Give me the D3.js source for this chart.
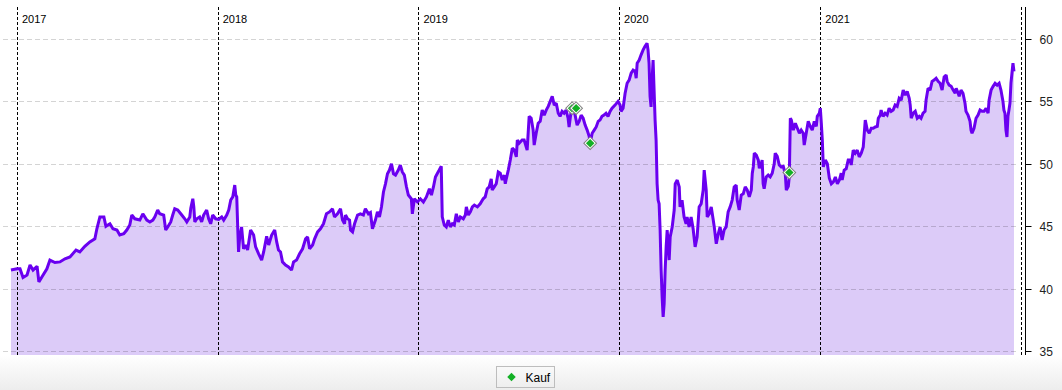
<!DOCTYPE html>
<html>
<head>
<meta charset="utf-8">
<script src="https://cdn.jsdelivr.net/npm/d3@7"></script>
<style>
	body { margin: 0; background: #fff; }
	svg { display: block; font-family: "Liberation Sans", Arial, sans-serif; }
</style>
</head>
<body>
<svg id="chart" width="1062" height="390"></svg>
<script>

// Zeitpunkte als Dezimaljahre, Kurse in EUR
var years = [
	2016.970, 2017.000, 2017.015, 2017.030, 2017.050, 2017.065, 2017.080, 2017.100, 2017.109, 2017.124,
	2017.149, 2017.164, 2017.189, 2017.214, 2017.239, 2017.264, 2017.294, 2017.313, 2017.338, 2017.363,
	2017.388, 2017.398, 2017.413, 2017.433, 2017.443, 2017.463, 2017.478, 2017.498, 2017.512, 2017.532,
	2017.547, 2017.562, 2017.572, 2017.587, 2017.612, 2017.627, 2017.647, 2017.662, 2017.677, 2017.687,
	2017.701, 2017.711, 2017.731, 2017.741, 2017.751, 2017.766, 2017.776, 2017.786, 2017.801, 2017.821,
	2017.836, 2017.846, 2017.861, 2017.866, 2017.876, 2017.881, 2017.886, 2017.896, 2017.910, 2017.920,
	2017.930, 2017.945, 2017.955, 2017.965, 2017.975, 2017.990,
	2018.005, 2018.020, 2018.030, 2018.045, 2018.055, 2018.065, 2018.075, 2018.085, 2018.090, 2018.095,
	2018.100, 2018.104, 2018.109, 2018.119, 2018.129, 2018.139, 2018.149, 2018.164, 2018.179, 2018.189,
	2018.204, 2018.219, 2018.229, 2018.244, 2018.254, 2018.269, 2018.284, 2018.294, 2018.303, 2018.313,
	2018.323, 2018.338, 2018.353, 2018.368, 2018.378, 2018.393, 2018.408, 2018.423, 2018.438, 2018.448,
	2018.458, 2018.473, 2018.483, 2018.498, 2018.512, 2018.527, 2018.542, 2018.557, 2018.572, 2018.582,
	2018.597, 2018.612, 2018.622, 2018.632, 2018.637, 2018.647, 2018.657, 2018.662, 2018.672, 2018.682,
	2018.697, 2018.711, 2018.726, 2018.736, 2018.751, 2018.761, 2018.771, 2018.786, 2018.796, 2018.806,
	2018.816, 2018.826, 2018.836, 2018.846, 2018.856, 2018.866, 2018.876, 2018.886, 2018.900, 2018.910,
	2018.920, 2018.930, 2018.940, 2018.950, 2018.965, 2018.970, 2018.980, 2018.995,
	2019.010, 2019.025, 2019.040, 2019.055, 2019.065, 2019.075, 2019.085, 2019.095, 2019.104, 2019.114,
	2019.119, 2019.129, 2019.139, 2019.149, 2019.159, 2019.169, 2019.179, 2019.189, 2019.199, 2019.209,
	2019.224, 2019.234, 2019.239, 2019.249, 2019.259, 2019.269, 2019.279, 2019.294, 2019.308, 2019.323,
	2019.333, 2019.343, 2019.353, 2019.363, 2019.368, 2019.378, 2019.388, 2019.398, 2019.408, 2019.418,
	2019.428, 2019.433, 2019.438, 2019.448, 2019.458, 2019.468, 2019.478, 2019.488, 2019.493, 2019.502,
	2019.517, 2019.527, 2019.542, 2019.552, 2019.562, 2019.572, 2019.577, 2019.587, 2019.597, 2019.607,
	2019.617, 2019.627, 2019.637, 2019.647, 2019.657, 2019.667, 2019.677, 2019.687, 2019.697, 2019.706,
	2019.716, 2019.726, 2019.736, 2019.746, 2019.751, 2019.761, 2019.771, 2019.781, 2019.791, 2019.801,
	2019.811, 2019.821, 2019.831, 2019.841, 2019.851, 2019.856, 2019.866, 2019.876, 2019.886, 2019.896,
	2019.905, 2019.915, 2019.925, 2019.935, 2019.945, 2019.955, 2019.965, 2019.980, 2019.995,
	2020.005, 2020.010, 2020.020, 2020.030, 2020.040, 2020.050, 2020.060, 2020.070, 2020.080, 2020.085,
	2020.090, 2020.100, 2020.109, 2020.119, 2020.129, 2020.139, 2020.144, 2020.149, 2020.154, 2020.159,
	2020.164, 2020.169, 2020.174, 2020.179, 2020.184, 2020.189, 2020.194, 2020.199, 2020.204, 2020.209,
	2020.214, 2020.219, 2020.224, 2020.229, 2020.234, 2020.239, 2020.244, 2020.249, 2020.254, 2020.264,
	2020.274, 2020.279, 2020.289, 2020.299, 2020.303, 2020.313, 2020.323, 2020.333, 2020.338, 2020.348,
	2020.358, 2020.368, 2020.378, 2020.388, 2020.398, 2020.408, 2020.418, 2020.423, 2020.433, 2020.438,
	2020.448, 2020.458, 2020.468, 2020.473, 2020.483, 2020.493, 2020.502, 2020.512, 2020.522, 2020.532,
	2020.542, 2020.552, 2020.562, 2020.572, 2020.582, 2020.587, 2020.597, 2020.607, 2020.617, 2020.627,
	2020.637, 2020.647, 2020.657, 2020.662, 2020.667, 2020.672, 2020.682, 2020.692, 2020.697, 2020.706,
	2020.711, 2020.716, 2020.721, 2020.731, 2020.741, 2020.751, 2020.761, 2020.771, 2020.776, 2020.786,
	2020.796, 2020.806, 2020.816, 2020.826, 2020.831, 2020.841, 2020.846, 2020.851, 2020.856, 2020.866,
	2020.876, 2020.886, 2020.896, 2020.905, 2020.915, 2020.920, 2020.930, 2020.940, 2020.950, 2020.960,
	2020.970, 2020.980, 2020.985, 2020.995,
	2021.000, 2021.005, 2021.010, 2021.015, 2021.025, 2021.035, 2021.045, 2021.055, 2021.065, 2021.075,
	2021.085, 2021.095, 2021.104, 2021.109, 2021.119, 2021.129, 2021.139, 2021.149, 2021.154, 2021.164,
	2021.174, 2021.184, 2021.194, 2021.204, 2021.214, 2021.224, 2021.234, 2021.244, 2021.254, 2021.264,
	2021.274, 2021.284, 2021.289, 2021.299, 2021.303, 2021.313, 2021.323, 2021.333, 2021.343, 2021.353,
	2021.363, 2021.373, 2021.383, 2021.393, 2021.403, 2021.413, 2021.423, 2021.433, 2021.443, 2021.448,
	2021.453, 2021.463, 2021.473, 2021.483, 2021.493, 2021.502, 2021.512, 2021.522, 2021.527, 2021.537,
	2021.547, 2021.557, 2021.567, 2021.577, 2021.587, 2021.597, 2021.607, 2021.612, 2021.617, 2021.627,
	2021.632, 2021.642, 2021.652, 2021.662, 2021.672, 2021.677, 2021.687, 2021.692, 2021.701, 2021.711,
	2021.721, 2021.726, 2021.736, 2021.746, 2021.751, 2021.756, 2021.766, 2021.776, 2021.786, 2021.796,
	2021.806, 2021.816, 2021.826, 2021.836, 2021.841, 2021.851, 2021.861, 2021.871, 2021.881, 2021.891,
	2021.900, 2021.910, 2021.915, 2021.920, 2021.925, 2021.930, 2021.935, 2021.940, 2021.945, 2021.950,
	2021.955, 2021.960, 2021.965
];

var prices = [
	41.5, 41.6, 41.6, 40.9, 41.1, 41.9, 41.5, 41.8, 40.55, 40.95,
	41.6, 42.3, 42.1, 42.15, 42.4, 42.55, 43.1, 42.95, 43.4, 43.75,
	44.0, 44.8, 45.75, 45.75, 45.0, 45.2, 44.8, 44.7, 44.3, 44.4,
	44.7, 45.1, 45.9, 45.6, 45.5, 46.0, 45.5, 45.35, 45.5, 45.75,
	46.3, 46.0, 45.9, 44.7, 44.95, 45.35, 45.9, 46.4, 46.3, 45.9,
	45.6, 45.35, 45.75, 46.45, 47.2, 46.55, 45.35, 45.6, 45.75, 45.35,
	45.9, 46.3, 45.6, 45.2, 45.9, 45.6,
	45.55, 45.75, 45.5, 45.9, 46.3, 47.1, 47.35, 48.3, 47.5, 47.35,
	44.8, 42.95, 44.0, 44.95, 43.2, 43.5, 43.1, 44.7, 44.3, 43.35,
	42.8, 42.3, 42.95, 44.2, 43.5, 44.3, 44.7, 43.75, 43.1, 42.95,
	42.15, 41.9, 41.75, 41.5, 42.15, 42.3, 42.8, 43.2, 44.0, 44.15,
	43.2, 43.5, 44.0, 44.55, 44.8, 45.2, 46.0, 46.15, 46.4, 45.75,
	46.0, 46.4, 45.5, 45.2, 45.9, 45.6, 45.5, 44.7, 44.55, 45.2,
	45.9, 46.0, 45.9, 46.4, 46.0, 46.1, 44.8, 45.5, 46.15, 45.75,
	46.55, 47.75, 48.4, 49.2, 49.5, 50.0, 49.2, 49.1, 49.5, 49.9,
	49.35, 49.1, 48.2, 47.5, 47.2, 46.0, 47.2, 46.95,
	47.2, 46.95, 47.35, 48.0, 47.5, 48.15, 48.95, 49.25, 49.5, 49.8,
	45.75, 45.1, 44.95, 45.5, 44.95, 45.2, 45.1, 46.0, 45.35, 45.75,
	45.6, 45.9, 46.55, 45.9, 46.15, 46.55, 46.7, 46.55, 46.8, 47.2,
	47.35, 48.0, 48.15, 48.8, 47.9, 48.15, 48.4, 49.35, 49.25, 48.7,
	49.1, 48.4, 48.8, 49.5, 50.3, 51.25, 51.1, 50.55, 51.9, 51.65,
	51.9, 51.9, 51.1, 53.8, 53.65, 52.7, 51.5, 52.45, 53.25, 53.4,
	54.3, 53.9, 54.3, 54.6, 55.0, 55.4, 54.7, 54.85, 54.05, 53.8,
	54.2, 54.05, 54.3, 53.65, 52.95, 54.2, 54.45, 53.9, 53.1, 53.4,
	53.9, 53.65, 53.1, 52.7, 52.2, 51.65, 52.45, 52.7, 52.95, 53.4,
	53.5, 53.8, 53.9, 54.05, 53.8, 54.2, 54.45, 54.7, 55.0,
	54.7, 54.2, 54.45, 55.65, 56.45, 56.7, 57.25, 57.5, 57.4, 56.85,
	58.05, 58.3, 58.7, 59.1, 59.4, 59.65, 59.1, 58.05, 55.4, 54.55,
	56.7, 58.3, 55.9, 53.5, 51.9, 48.4, 47.1, 46.8, 44.7, 41.5,
	39.35, 37.75, 38.8, 41.5, 43.35, 44.7, 43.6, 42.3, 44.15, 44.95,
	46.3, 48.4, 48.7, 48.15, 46.55, 47.1, 45.75, 45.2, 45.75, 44.95,
	45.75, 44.8, 43.35, 44.15, 46.55, 46.8, 47.9, 49.5, 47.9, 45.75,
	46.0, 46.55, 45.5, 44.95, 43.6, 44.4, 44.95, 43.9, 44.7, 44.95,
	46.15, 46.55, 47.1, 48.15, 48.3, 47.1, 46.3, 47.5, 47.6, 48.15,
	47.9, 47.35, 47.9, 49.25, 49.75, 50.85, 50.7, 50.3, 49.65, 50.0,
	50.3, 48.4, 48.0, 48.95, 49.1, 48.95, 49.25, 50.0, 50.85, 50.6,
	49.9, 49.75, 49.8, 49.2, 47.9, 48.2, 49.0, 53.65, 53.5, 52.7,
	53.25, 52.85, 52.45, 52.7, 52.45, 51.5, 52.45, 53.4, 53.0, 52.7,
	53.4, 53.0, 53.8, 54.05,
	54.45, 53.25, 51.9, 49.75, 50.3, 50.0, 48.85, 48.4, 48.55, 48.95,
	48.4, 48.7, 49.25, 48.7, 49.5, 49.6, 50.3, 50.3, 49.9, 51.1,
	50.85, 51.1, 50.55, 50.85, 51.35, 53.5, 52.7, 52.45, 52.85, 52.85,
	52.95, 53.0, 53.65, 53.9, 54.3, 53.8, 54.05, 53.9, 54.45, 54.2,
	54.3, 54.7, 54.6, 55.25, 55.1, 55.9, 55.5, 55.8, 55.25, 54.7,
	53.65, 54.05, 54.2, 53.65, 53.8, 53.65, 54.05, 54.2, 55.1, 56.05,
	55.9, 56.6, 56.7, 56.85, 56.6, 56.45, 55.9, 56.45, 56.95, 57.1,
	56.6, 56.3, 56.2, 55.9, 55.65, 56.05, 55.65, 55.4, 55.9, 55.65,
	54.85, 54.2, 53.9, 53.4, 52.7, 52.45, 52.85, 53.65, 53.9, 54.3,
	54.2, 54.2, 54.45, 54.05, 55.1, 55.9, 56.2, 56.45, 56.3, 56.45,
	55.9, 55.0, 54.3, 54.05, 52.7, 52.15, 53.8, 54.3, 54.85, 56.45,
	57.25, 58.05, 57.4
];

// Kaufsignale
var kaufYears = [2019.766, 2019.786, 2019.856, 2020.846];
var kaufPrices = [54.45, 54.45, 51.65, 49.3];

var yTicks = [35, 40, 45, 50, 55, 60];
var yearTicks = [2017, 2018, 2019, 2020, 2021, 2022];
var yearLabels = ["2017", "2018", "2019", "2020", "2021"];
var legendLabel = "Kauf";

var toDate = function(y) {
	var yr = Math.floor(y);
	var a = Date.UTC(yr, 0, 1), b = Date.UTC(yr + 1, 0, 1);
	return new Date(a + (y - yr) * (b - a));
};

var data = years.map(function(y, i) { return { date: toDate(y), value: prices[i] }; });
var kauf = kaufYears.map(function(y, i) { return { date: toDate(y), value: kaufPrices[i] }; });

var svg = d3.select("#chart");

var x = d3.scaleUtc()
	.domain([toDate(2017), toDate(2022)])
	.range([17, 1021]);

var y = d3.scaleLinear()
	.domain([34.7, 62.55])
	.range([355, 7]);

// Hintergrund unten mit Verlauf
var defs = svg.append("defs");
var grad = defs.append("linearGradient").attr("id", "bottomGrad")
	.attr("x1", 0).attr("y1", 0).attr("x2", 0).attr("y2", 1);
grad.append("stop").attr("offset", "0%").attr("stop-color", "#ffffff");
grad.append("stop").attr("offset", "100%").attr("stop-color", "#ededed");

svg.append("rect")
	.attr("x", 0).attr("y", 355)
	.attr("width", 1062).attr("height", 35)
	.attr("fill", "url(#bottomGrad)");

// Flaeche unter dem Kurs
var area = d3.area()
	.x(function(d) { return x(d.date); })
	.y0(y.range()[0])
	.y1(function(d) { return y(d.value); });

svg.append("path")
	.datum(data)
	.attr("d", area)
	.attr("fill", "#dccbf8");

// horizontale Gitterlinien
svg.append("g").selectAll("line")
	.data(yTicks)
	.enter().append("line")
	.attr("x1", 3).attr("x2", 1019)
	.attr("y1", function(d) { return Math.round(y(d)) + 0.5; })
	.attr("y2", function(d) { return Math.round(y(d)) + 0.5; })
	.attr("stroke", "rgba(0,0,0,0.17)")
	.attr("stroke-dasharray", "5,3");

// Jahreslinien
svg.append("g").selectAll("line")
	.data(yearTicks)
	.enter().append("line")
	.attr("x1", function(d) { return Math.round(x(toDate(d))) + 0.5; })
	.attr("x2", function(d) { return Math.round(x(toDate(d))) + 0.5; })
	.attr("y1", 7).attr("y2", 355)
	.attr("stroke", "#000")
	.attr("stroke-dasharray", "3,2");

svg.append("g").selectAll("text")
	.data(yearLabels)
	.enter().append("text")
	.attr("x", function(d) { return x(toDate(+d)) + 5; })
	.attr("y", 23)
	.attr("font-size", 11)
	.attr("fill", "#000")
	.text(function(d) { return d; });

// Kurslinie
var line = d3.line()
	.x(function(d) { return x(d.date); })
	.y(function(d) { return y(d.value); });

svg.append("path")
	.datum(data)
	.attr("d", line)
	.attr("fill", "none")
	.attr("stroke", "#6a00f0")
	.attr("stroke-width", 3)
	.attr("stroke-linejoin", "miter")
	.attr("stroke-miterlimit", 2);

// Kauf-Markierungen
var marks = svg.append("g").selectAll("g")
	.data(kauf)
	.enter().append("g")
	.attr("transform", function(d) {
		return "translate(" + x(d.date) + "," + y(d.value) + ") rotate(45)";
	});

marks.append("rect")
	.attr("x", -4.5).attr("y", -4.5)
	.attr("width", 9).attr("height", 9)
	.attr("fill", "#fff")
	.attr("stroke", "#808080")
	.attr("stroke-width", 1);

marks.append("rect")
	.attr("x", -3).attr("y", -3)
	.attr("width", 6).attr("height", 6)
	.attr("fill", "#12b025");

// rechte Achse
var axis = svg.append("g").attr("transform", "translate(1025.5,0)");
axis.append("line")
	.attr("x1", 0).attr("x2", 0)
	.attr("y1", 7).attr("y2", 355)
	.attr("stroke", "#000");

var ticks = axis.selectAll("g.tick")
	.data(yTicks)
	.enter().append("g")
	.attr("transform", function(d) { return "translate(0," + (Math.round(y(d)) + 0.5) + ")"; });

ticks.append("line")
	.attr("x1", 0).attr("x2", 6)
	.attr("stroke", "#000");

ticks.append("text")
	.attr("x", 14)
	.attr("dy", "0.35em")
	.attr("font-size", 12)
	.attr("fill", "#222")
	.text(function(d) { return d; });

// Legende
var legend = svg.append("g").attr("transform", "translate(496.5,366.5)");
legend.append("rect")
	.attr("width", 58).attr("height", 21)
	.attr("fill", "none")
	.attr("stroke", "#bdbdbd");

legend.append("rect")
	.attr("x", -3).attr("y", -3)
	.attr("width", 6).attr("height", 6)
	.attr("fill", "#12b025")
	.attr("transform", "translate(15,10.5) rotate(45)");

legend.append("text")
	.attr("x", 29).attr("y", 15)
	.attr("font-size", 12)
	.attr("fill", "#000")
	.text(legendLabel);

</script>
</body>
</html>
